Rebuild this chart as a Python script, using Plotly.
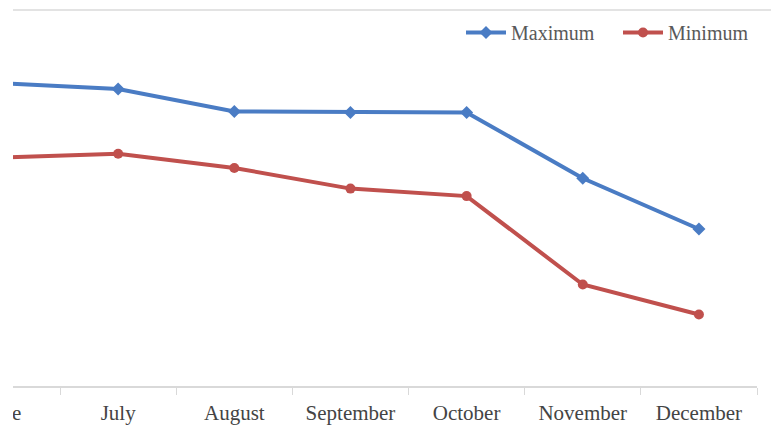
import plotly.graph_objects as go

# Monthly temperature extremes (°C)
months = ["June", "July", "August", "September", "October", "November", "December"]
maximum = [32.2, 31.6, 29.2, 29.1, 29.1, 22.1, 16.7]
minimum = [24.3, 24.7, 23.2, 21.0, 20.2, 10.8, 7.6]

BLUE = "#4a7cc4"
RED = "#c0504d"
TEXT = "#444444"
LEGEND_TEXT = "#595959"
GRID = "#d9d9d9"
FONT = "Liberation Serif, Times New Roman, serif"

PLOT_W = 757          # plot area width in px (left margin 0)
LEFT_PAD = 13         # blank strip along the left edge, px
X_RANGE = [-0.0172, 6.5]

fig = go.Figure()
fig.add_trace(go.Scatter(
    x=months, y=maximum, name="Maximum", mode="lines+markers",
    line=dict(color=BLUE, width=4),
    marker=dict(symbol="diamond", size=10, color=BLUE),
))
fig.add_trace(go.Scatter(
    x=months, y=minimum, name="Minimum", mode="lines+markers",
    line=dict(color=RED, width=4),
    marker=dict(symbol="circle", size=10, color=RED),
))

# Blank strip down the left edge
fig.add_shape(
    type="rect", xref="paper", yref="paper", layer="above",
    x0=-0.01, x1=LEFT_PAD / PLOT_W, y0=-0.3, y1=1.1,
    fillcolor="white", line=dict(width=0),
)

# Thin border line along the top of the plot area
fig.add_shape(
    type="line", xref="paper", yref="paper",
    x0=LEFT_PAD / PLOT_W, x1=1.03, y0=1, y1=1,
    line=dict(color="#e3e3e3", width=2),
)

fig.update_layout(
    width=771, height=437,
    margin=dict(l=0, r=771 - PLOT_W, t=10, b=51, autoexpand=False),
    paper_bgcolor="white", plot_bgcolor="white",
    font=dict(family=FONT, size=21, color=TEXT),
    showlegend=True,
    legend=dict(
        orientation="h", x=1.0 + 18 / PLOT_W, xanchor="right", y=0.94, yanchor="middle",
        font=dict(family=FONT, size=20, color=LEGEND_TEXT),
        bgcolor="rgba(0,0,0,0)", itemwidth=40, tracegroupgap=0,
        entrywidth=102, entrywidthmode="pixels",
    ),
    xaxis=dict(
        type="category", range=X_RANGE, automargin=False,
        showgrid=False, zeroline=False,
        showline=True, linecolor=GRID, linewidth=1.5,
        ticks="outside", tickson="boundaries", ticklen=7, tickcolor=GRID,
        ticklabelstandoff=7,
        tickfont=dict(family=FONT, size=21, color=TEXT),
    ),
    yaxis=dict(
        range=[0, 40], visible=False, showgrid=False, zeroline=False,
    ),
)

fig.write_html("out.html")
